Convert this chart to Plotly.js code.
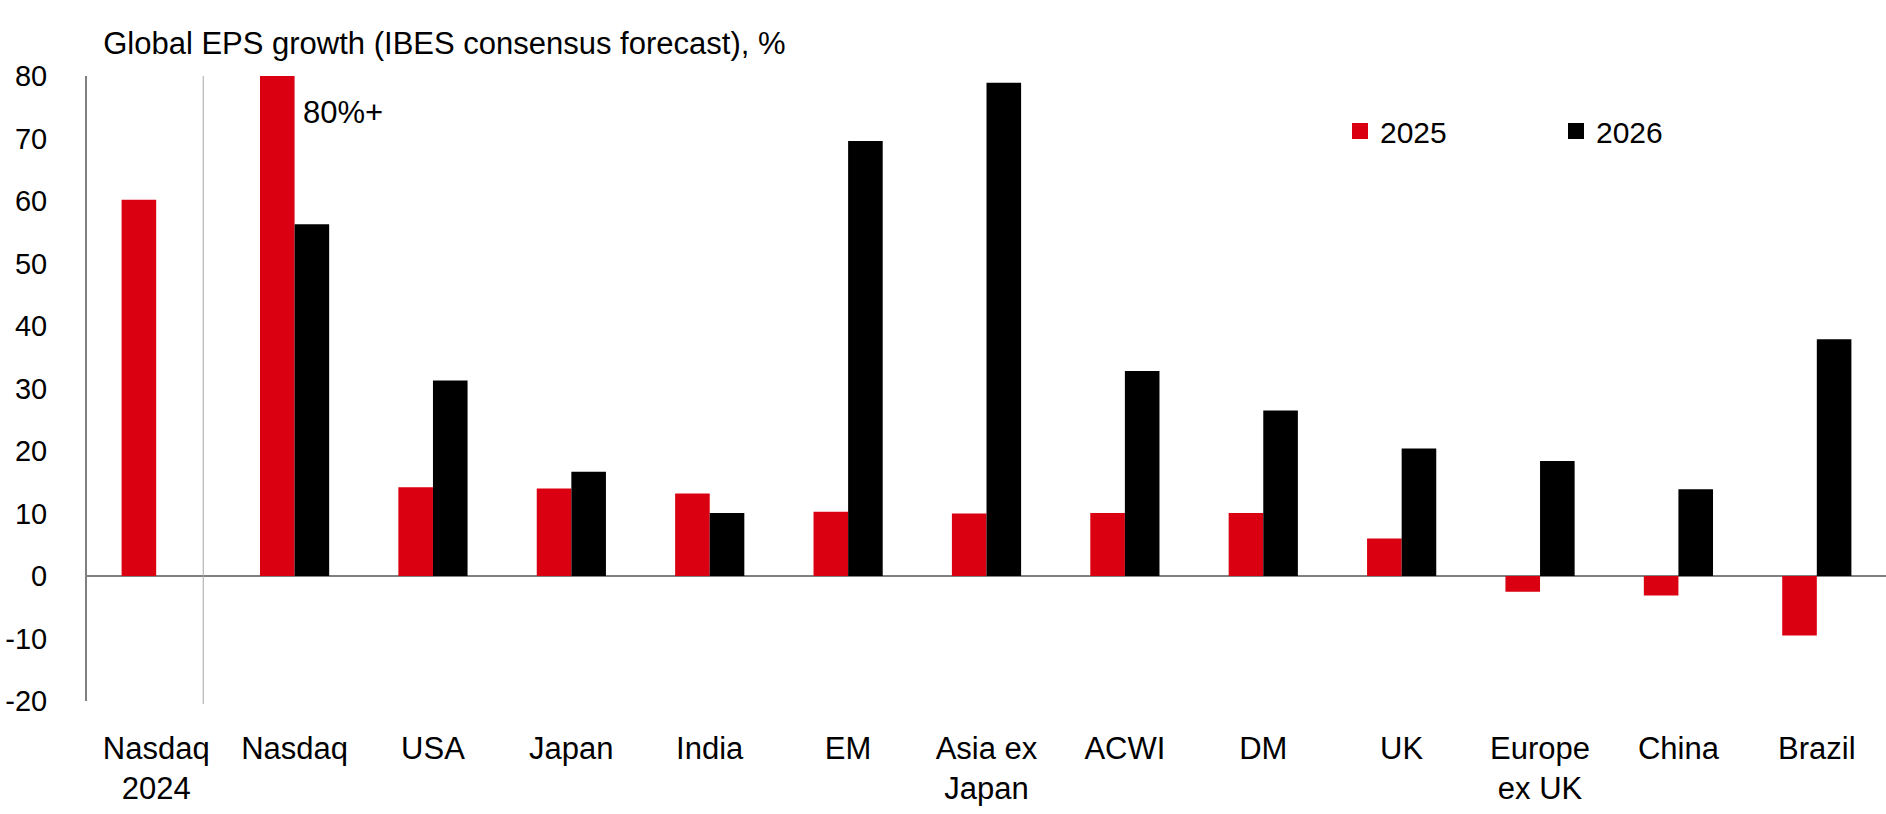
<!DOCTYPE html>
<html>
<head>
<meta charset="utf-8">
<script src="https://cdn.plot.ly/plotly-3.0.1.min.js"></script>
<style>
  html, body { margin: 0; padding: 0; background: #fff; }
  #chart { width: 1886px; height: 814px; }
</style>
</head>
<body>
<div id="chart"></div>
<script>
// categories and values (% EPS growth)
const categories = ["Nasdaq<br>2024", "Nasdaq", "USA", "Japan", "India", "EM",
    "Asia ex<br>Japan", "ACWI", "DM", "UK", "Europe<br>ex UK", "China", "Brazil"];
const eps2025 = [60.2, 80, 14.2, 14.0, 13.2, 10.3, 10.0, 10.1, 10.1, 6.0, -2.5, -3.1, -9.5];
const eps2026 = [null, 56.3, 31.3, 16.7, 10.1, 69.6, 78.9, 32.8, 26.5, 20.4, 18.4, 13.9, 37.9];
const yTicks = [-20, -10, 0, 10, 20, 30, 40, 50, 60, 70, 80];

const RED = "#DB0011";
const FONT = "Liberation Sans, Arial, sans-serif";

const initChart = async () => {
    let trace_2025 = {
        name: "2025",
        x: categories,
        y: eps2025,
        type: "bar",
        marker: { color: RED },
        showlegend: false,
        hoverinfo: "skip",
    };
    let trace_2026 = {
        name: "2026",
        x: categories,
        y: eps2026,
        type: "bar",
        marker: { color: "#000000" },
        showlegend: false,
        hoverinfo: "skip",
    };
    // legend-only entries, so the swatches can be bigger than the bar default
    let legend_2025 = {
        name: "2025",
        x: [null],
        y: [null],
        type: "scatter",
        mode: "markers",
        marker: { color: RED, symbol: "square", size: 19 },
    };
    let legend_2026 = {
        name: "2026",
        x: [null],
        y: [null],
        type: "scatter",
        mode: "markers",
        marker: { color: "#000000", symbol: "square", size: 19 },
    };
    let layout = {
        autosize: false,
        width: 1886,
        height: 814,
        margin: { l: 87, r: 0, t: 76, b: 113, pad: 0 },
        paper_bgcolor: "#ffffff",
        plot_bgcolor: "#ffffff",
        font: { family: FONT, size: 31, color: "#000000" },
        barmode: "group",
        bargap: 0.5,
        bargroupgap: 0,
        title: {
            text: "Global EPS growth (IBES consensus forecast), %",
            font: { family: FONT, size: 31, color: "#000000" },
            xref: "paper",
            x: 0.009,
            xanchor: "left",
            yref: "container",
            y: 0.947,
            yanchor: "middle",
        },
        showlegend: true,
        legend: {
            orientation: "h",
            x: 0.6965,
            xanchor: "left",
            y: 0.912,
            yanchor: "middle",
            font: { family: FONT, size: 30 },
            entrywidthmode: "pixels",
            entrywidth: 171,
            bgcolor: "rgba(0,0,0,0)",
        },
        xaxis: {
            type: "category",
            categoryarray: categories,
            showline: false,
            showgrid: false,
            ticks: "",
            tickfont: { family: FONT, size: 31 },
            ticklabelstandoff: 26,
            fixedrange: true,
        },
        yaxis: {
            range: [-20, 80],
            tickvals: yTicks,
            ticktext: yTicks.map((v) => String(v)),
            showgrid: false,
            showline: true,
            linecolor: "#808080",
            linewidth: 2,
            zeroline: true,
            zerolinecolor: "#808080",
            zerolinewidth: 2.5,
            ticks: "",
            tickfont: { family: FONT, size: 29 },
            ticklabelstandoff: 32,
            fixedrange: true,
        },
        shapes: [
            {
                type: "line",
                xref: "x",
                yref: "paper",
                x0: 0.34,
                x1: 0.34,
                y0: -0.005,
                y1: 1,
                line: { color: "#a6a6a6", width: 1 },
            },
        ],
        annotations: [
            {
                text: "80%+",
                xref: "x",
                yref: "y",
                x: "Nasdaq",
                y: 74.2,
                xanchor: "left",
                yanchor: "middle",
                xshift: 6,
                showarrow: false,
                font: { family: FONT, size: 31, color: "#000000" },
            },
        ],
    };

    let config = { responsive: false, displayModeBar: false, staticPlot: true };
    await Plotly.newPlot("chart", [trace_2025, trace_2026, legend_2025, legend_2026], layout, config);
};

initChart();
</script>
</body>
</html>
